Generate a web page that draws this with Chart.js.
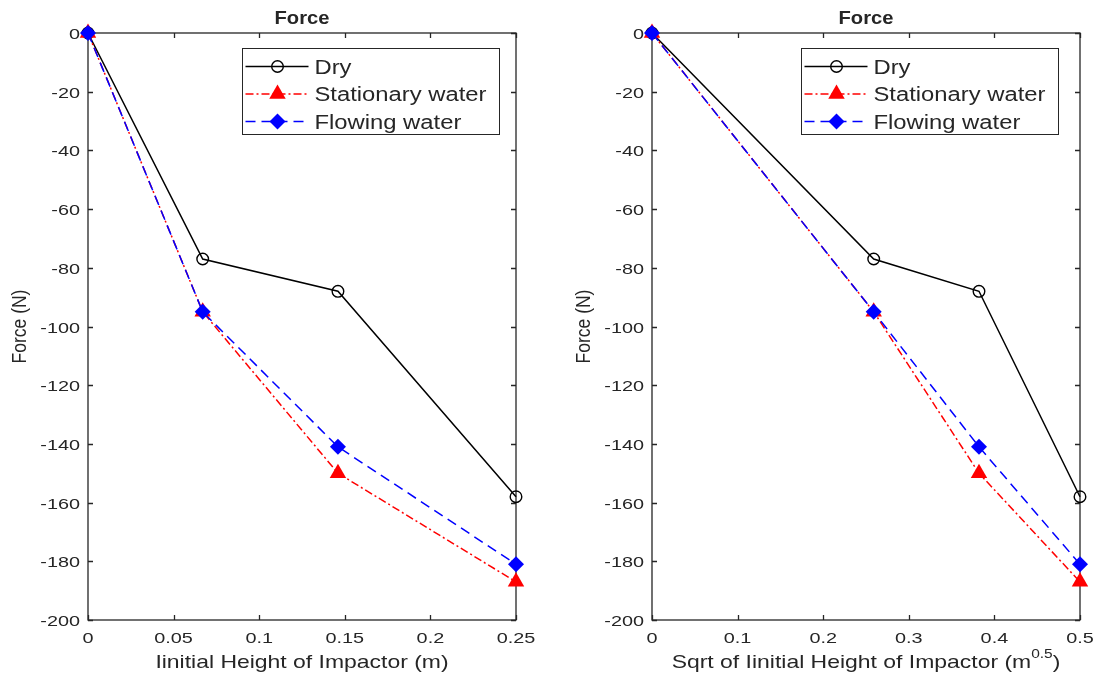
<!DOCTYPE html>
<html>
<head>
<meta charset="utf-8">
<script src="https://cdn.jsdelivr.net/npm/chart.js@4.4.0/dist/chart.umd.min.js"></script>
<style>
  html, body { margin: 0; padding: 0; background: #fff; }
  #wrap { position: relative; width: 1096px; height: 682px; overflow: hidden; }
  canvas { position: absolute; top: 0; }
  #left { left: 0; }
  #right { left: 548px; }
</style>
</head>
<body>
<div id="wrap">
  <canvas id="left" width="548" height="682"></canvas>
  <canvas id="right" width="548" height="682"></canvas>
</div>
<script>
// initial height of impactor (m) and its square root (m^0.5)
const heights = [0, 0.067, 0.146, 0.25];
const sqrtHeights = [0, 0.259, 0.382, 0.5];

// force (N) for each condition
const dryForce = [0, -77, -88, -158];
const stationaryForce = [0, -95, -150, -187];
const flowingForce = [0, -95, -141, -181];

const seriesNames = ['Dry', 'Stationary water', 'Flowing water'];

const leftXTicks = [0, 0.05, 0.1, 0.15, 0.2, 0.25];
const leftXTickLabels = ['0', '0.05', '0.1', '0.15', '0.2', '0.25'];
const rightXTicks = [0, 0.1, 0.2, 0.3, 0.4, 0.5];
const rightXTickLabels = ['0', '0.1', '0.2', '0.3', '0.4', '0.5'];
const yTicks = [0, -20, -40, -60, -80, -100, -120, -140, -160, -180, -200];
const yTickLabels = ['0', '-20', '-40', '-60', '-80', '-100', '-120', '-140', '-160', '-180', '-200'];

const INK = '#262626';
const FONT = '"Liberation Sans", Arial, Helvetica, sans-serif';

// the reference is a bit stretched sideways, so text gets a horizontal scale
function drawText(ctx, text, x, y, opts) {
  ctx.save();
  ctx.translate(x, y);
  if(opts.rotate) {
    ctx.rotate(opts.rotate);
  }
  ctx.scale(opts.sx || 1, opts.sy || 1);
  ctx.font = opts.font;
  ctx.fillStyle = INK;
  ctx.textAlign = opts.align || 'left';
  ctx.textBaseline = 'alphabetic';
  ctx.fillText(text, 0, 0);
  ctx.restore();
}

function textWidth(ctx, text, font) {
  ctx.save();
  ctx.font = font;
  let w = ctx.measureText(text).width;
  ctx.restore();
  return w;
}

const axesBox = {
  id: 'axesBox',
  beforeDatasetsDraw(chart, args, opts) {
    const ctx = chart.ctx;
    const a = chart.chartArea;
    const x = chart.scales.x;
    const y = chart.scales.y;
    ctx.save();
    ctx.strokeStyle = INK;
    ctx.lineWidth = 1.3;
    ctx.setLineDash([]);
    ctx.strokeRect(a.left, a.top, a.right - a.left, a.bottom - a.top);
    ctx.beginPath();
    for(let t of x.ticks) {
      let px = Math.round(x.getPixelForValue(t.value)) + 0.5;
      ctx.moveTo(px, a.bottom); ctx.lineTo(px, a.bottom - 5);
      ctx.moveTo(px, a.top); ctx.lineTo(px, a.top + 5);
    }
    for(let t of y.ticks) {
      let py = Math.round(y.getPixelForValue(t.value)) + 0.5;
      ctx.moveTo(a.left, py); ctx.lineTo(a.left + 5, py);
      ctx.moveTo(a.right, py); ctx.lineTo(a.right - 5, py);
    }
    ctx.stroke();
    ctx.restore();

    const tickFont = '15.5px ' + FONT;
    for(let t of x.ticks) {
      drawText(ctx, t.label, x.getPixelForValue(t.value), a.bottom + 23, {font: tickFont, align: 'center', sx: 1.28});
    }
    for(let t of y.ticks) {
      drawText(ctx, t.label, a.left - 8, y.getPixelForValue(t.value) + 6, {font: tickFont, align: 'right', sx: 1.28});
    }

    // title
    let cx = (a.left + a.right) / 2;
    drawText(ctx, opts.title, cx, 24, {font: 'bold 18px ' + FONT, align: 'center', sx: 1.12});

    // y label
    drawText(ctx, opts.yTitle, a.left - 62, (a.top + a.bottom) / 2, {font: '17.5px ' + FONT, align: 'center', rotate: -Math.PI / 2, sy: 1.17});

    // x label, with an optional superscript
    const labFont = '18.5px ' + FONT;
    const supFont = '12.5px ' + FONT;
    const sx = 1.24;
    if(opts.xSup) {
      let w1 = textWidth(ctx, opts.xTitle, labFont) * sx;
      let w2 = textWidth(ctx, opts.xSup, supFont) * sx;
      let w3 = textWidth(ctx, opts.xTail, labFont) * sx;
      let start = cx - (w1 + w2 + w3) / 2;
      drawText(ctx, opts.xTitle, start, 668, {font: labFont, sx: sx});
      drawText(ctx, opts.xSup, start + w1, 658, {font: supFont, sx: sx});
      drawText(ctx, opts.xTail, start + w1 + w2, 668, {font: labFont, sx: sx});
    } else {
      drawText(ctx, opts.xTitle, cx, 668, {font: labFont, align: 'center', sx: sx});
    }
  },
  afterDatasetsDraw(chart, args, opts) {
    const ctx = chart.ctx;
    const a = chart.chartArea;
    const bw = 257;
    const bh = 86;
    const bx = Math.round(a.right - opts.legendGap - bw) + 0.5;
    const by = Math.round(a.top + 15) + 0.5;
    ctx.save();
    ctx.fillStyle = '#ffffff';
    ctx.fillRect(bx, by, bw, bh);
    ctx.strokeStyle = INK;
    ctx.lineWidth = 1;
    ctx.setLineDash([]);
    ctx.strokeRect(bx, by, bw, bh);
    const rows = [18, 45.5, 73];
    chart.data.datasets.forEach((ds, i) => {
      let ry = by + rows[i];
      ctx.strokeStyle = ds.borderColor;
      ctx.lineWidth = ds.borderWidth;
      ctx.setLineDash(ds.borderDash);
      ctx.beginPath();
      ctx.moveTo(bx + 3, ry);
      ctx.lineTo(bx + 66, ry);
      ctx.stroke();
      ctx.setLineDash([]);
      ctx.fillStyle = ds.pointBackgroundColor;
      ctx.strokeStyle = ds.pointBorderColor;
      ctx.lineWidth = ds.pointBorderWidth;
      Chart.helpers.drawPoint(ctx, {
        pointStyle: ds.pointStyle,
        radius: ds.pointRadius,
        rotation: 0,
        borderWidth: ds.pointBorderWidth
      }, bx + 35, ry);
      drawText(ctx, ds.label, bx + 72, ry + 7, {font: '20px ' + FONT, sx: 1.19});
    });
    ctx.restore();
  }
};

function makeDatasets(xs) {
  return [
    {
      label: seriesNames[0],
      data: xs.map((v, i) => ({x: v, y: dryForce[i]})),
      borderColor: '#000000',
      backgroundColor: 'rgba(0,0,0,0)',
      borderWidth: 1.5,
      borderDash: [],
      pointStyle: 'circle',
      pointRadius: 5.8,
      pointBorderWidth: 1.4,
      pointBorderColor: '#000000',
      pointBackgroundColor: 'rgba(0,0,0,0)',
      order: 3,
      clip: false
    },
    {
      label: seriesNames[1],
      data: xs.map((v, i) => ({x: v, y: stationaryForce[i]})),
      borderColor: '#ff0000',
      backgroundColor: '#ff0000',
      borderWidth: 1.5,
      borderDash: [8, 3, 2, 3],
      pointStyle: 'triangle',
      pointRadius: 9.5,
      pointBorderWidth: 0,
      pointBorderColor: '#ff0000',
      pointBackgroundColor: '#ff0000',
      order: 2,
      clip: false
    },
    {
      label: seriesNames[2],
      data: xs.map((v, i) => ({x: v, y: flowingForce[i]})),
      borderColor: '#0000ff',
      backgroundColor: '#0000ff',
      borderWidth: 1.5,
      borderDash: [10, 6],
      pointStyle: 'rectRot',
      pointRadius: 8,
      pointBorderWidth: 0,
      pointBorderColor: '#0000ff',
      pointBackgroundColor: '#0000ff',
      order: 1,
      clip: false
    }
  ];
}

function makeChart(id, xs, xTicks, xTickLabels, padLeft, padRight, boxOpts) {
  const config = {
    type: 'line',
    data: {
      datasets: makeDatasets(xs)
    },
    options: {
      responsive: false,
      animation: false,
      events: [],
      layout: {
        padding: {top: 33, left: padLeft, right: padRight, bottom: 0}
      },
      scales: {
        x: {
          type: 'linear',
          min: xTicks[0],
          max: xTicks[xTicks.length - 1],
          grid: {display: false},
          border: {display: false},
          ticks: {
            display: false,
            callback: (v, i) => xTickLabels[i]
          },
          afterBuildTicks: (scale) => {
            scale.ticks = xTicks.map(v => ({value: v}));
          },
          afterFit: (scale) => {
            scale.height = 62;
          }
        },
        y: {
          type: 'linear',
          min: -200,
          max: 0,
          grid: {display: false},
          border: {display: false},
          ticks: {
            display: false,
            callback: (v, i) => yTickLabels[i]
          },
          afterBuildTicks: (scale) => {
            scale.ticks = yTicks.map(v => ({value: v}));
          },
          afterFit: (scale) => {
            scale.width = 88;
          }
        }
      },
      plugins: {
        legend: {display: false},
        title: {display: false},
        tooltip: {enabled: false},
        axesBox: boxOpts
      }
    },
    plugins: [axesBox]
  };
  return new Chart(document.getElementById(id), config);
}

makeChart('left', heights, leftXTicks, leftXTickLabels, 0, 32, {
  title: 'Force',
  yTitle: 'Force (N)',
  xTitle: 'Iinitial Height of Impactor (m)',
  legendGap: 17
});

makeChart('right', sqrtHeights, rightXTicks, rightXTickLabels, 16, 16, {
  title: 'Force',
  yTitle: 'Force (N)',
  xTitle: 'Sqrt of Iinitial Height of Impactor (m',
  xSup: '0.5',
  xTail: ')',
  legendGap: 22
});
</script>
</body>
</html>
